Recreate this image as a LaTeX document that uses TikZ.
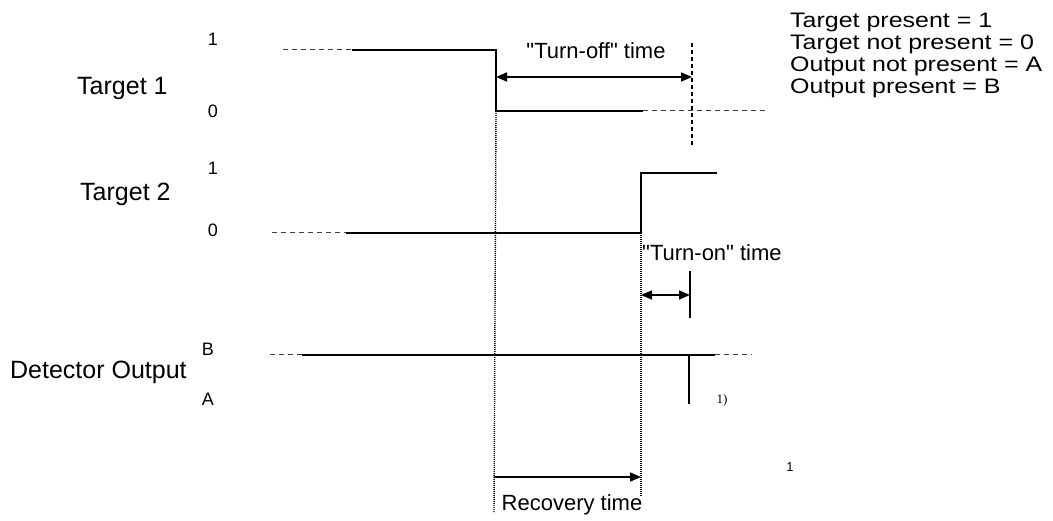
\documentclass[tikz,border=0pt]{standalone}
\usepackage{fontspec}
\setmainfont{Liberation Sans}
\newfontfamily\notefont{Liberation Serif}
\newfontfamily\keyfont{Liberation Sans}[FakeStretch=1.19]
\usetikzlibrary{arrows.meta}
\tikzset{
    sidelabel/.style={inner sep=0pt, font=\fontsize{25}{25}\selectfont},
    levellabel/.style={inner sep=0pt, font=\fontsize{18}{18}\selectfont},
    timelabel/.style={inner sep=0pt, font=\fontsize{22}{22}\selectfont},
    keylabel/.style={inner sep=0pt, anchor=base west, font=\keyfont\fontsize{21}{21}\selectfont},
    wave/.style={line width=1.8pt},
    fadewave/.style={line width=1pt, dash pattern=on 5pt off 4pt, draw=black!75},
    guide/.style={line width=1.4pt, dash pattern=on 1pt off 1pt},
    marker/.style={line width=1.4pt, dash pattern=on 4pt off 3pt},
    edgebar/.style={line width=1.5pt},
    dimarrow/.style={{Triangle[length=11pt,width=9pt]}-{Triangle[length=11pt,width=9pt]}, line width=1.6pt},
    onearrow/.style={-{Triangle[length=11pt,width=9pt]}, line width=1.6pt}
}
\begin{document}
\begin{tikzpicture}[x=1pt, y=-1pt]
    \useasboundingbox (0,0) rectangle (1053,521);
    % signal names and levels
    \node[sidelabel, anchor=base west] (t1name) at (77,95) {Target 1};
    \node[sidelabel, anchor=base west] (t2name) at (80,201) {Target 2};
    \node[sidelabel, anchor=base west] (detname) at (10,379) {Detector Output};
    \node[levellabel] (t1one) at (213,39) {1};
    \node[levellabel] (t1zero) at (213,111) {0};
    \node[levellabel] (t2one) at (213,168) {1};
    \node[levellabel] (t2zero) at (213,230) {0};
    \node[levellabel] (detb) at (208,349) {B};
    \node[levellabel] (deta) at (208,399) {A};
    % target 1
    \coordinate (t1start) at (283,50);
    \coordinate (t1hi) at (352,50);
    \coordinate (t1fall) at (496,50);
    \coordinate (t1lo) at (496,111);
    \coordinate (t1end) at (643,111);
    \coordinate (t1fade) at (767,111);
    \draw[fadewave] (t1start) -- (t1hi);
    \draw[wave] (t1hi) -- (t1fall) -- (t1lo) -- (t1end);
    \draw[fadewave] (t1end) -- (t1fade);
    % target 2
    \coordinate (t2start) at (272,233);
    \coordinate (t2lo) at (346,233);
    \coordinate (t2rise) at (641,233);
    \coordinate (t2hi) at (641,173);
    \coordinate (t2end) at (717,173);
    \draw[fadewave] (t2start) -- (t2lo);
    \draw[wave] (t2lo) -- (t2rise) -- (t2hi) -- (t2end);
    % detector output
    \coordinate (detstart) at (270,355);
    \coordinate (detb1) at (302,355);
    \coordinate (detdrop) at (689,355);
    \coordinate (detb2) at (715,355);
    \coordinate (detfade) at (752,355);
    \coordinate (detlow) at (689,404);
    \draw[fadewave] (detstart) -- (detb1);
    \draw[wave] (detb1) -- (detb2);
    \draw[fadewave] (detb2) -- (detfade);
    \draw[edgebar] (detdrop) -- (detlow);
    \node[inner sep=0pt, font=\notefont\fontsize{13}{13}\selectfont] (note) at (722,400) {1)};
    % guides
    \coordinate (offguide) at (494,513);
    \coordinate (onguide) at (641,497);
    \draw[guide] (t1lo) -- (offguide);
    \draw[guide] (t2rise) -- (onguide);
    % turn-off time
    \coordinate (offtop) at (692,43);
    \coordinate (offbot) at (692,148);
    \draw[marker] (offtop) -- (offbot);
    \coordinate (offl) at (496,77);
    \coordinate (offr) at (692,77);
    \draw[dimarrow] (offl) -- (offr);
    \node[timelabel] (offlabel) at (596,51) {\textquotedbl Turn-off\textquotedbl{} time};
    % turn-on time
    \node[timelabel, anchor=west] (onlabel) at (642,253) {\textquotedbl Turn-on\textquotedbl{} time};
    \coordinate (ontop) at (690,271);
    \coordinate (onbot) at (690,318);
    \draw[edgebar] (ontop) -- (onbot);
    \coordinate (onl) at (641,295);
    \coordinate (onr) at (690,295);
    \draw[dimarrow] (onl) -- (onr);
    % recovery time
    \coordinate (recl) at (494,477);
    \coordinate (recr) at (641,477);
    \draw[onearrow] (recl) -- (recr);
    \node[timelabel] (reclabel) at (572,505) {Recovery time};
    \node[inner sep=0pt, font=\fontsize{13}{13}\selectfont] (stray) at (790,467) {1};
    % key
    \node[keylabel] (key1) at (790,28) {Target present = 1};
    \node[keylabel] (key2) at (790,50) {Target not present = 0};
    \node[keylabel] (key3) at (790,72) {Output not present = A};
    \node[keylabel] (key4) at (790,94) {Output present = B};
\end{tikzpicture}
\end{document}
